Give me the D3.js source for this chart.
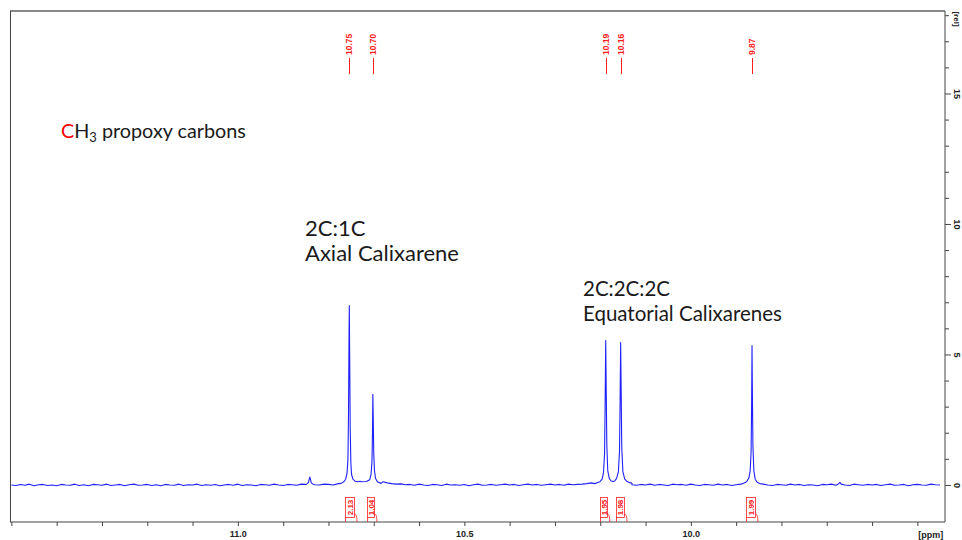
<!DOCTYPE html>
<html>
<head>
<meta charset="utf-8">
<script src="https://cdn.jsdelivr.net/npm/d3@7"></script>
<style>
	body { margin: 0; background: #fff; }
	svg { display: block; }
	.tick text { font-family: "Liberation Sans", Arial, sans-serif; font-weight: bold; font-size: 9px; fill: #222; }
	.note { font-family: Lato, "Open Sans", sans-serif; fill: #1a1a1a; }
</style>
</head>
<body>
<div id="chart"></div>
<script>

// x ticks every 0.1 ppm, only some carry a label
const xTicks = [11.5, 11.4, 11.3, 11.2, 11.1, 11.0, 10.9, 10.8, 10.7, 10.6, 10.5, 10.4, 10.3, 10.2, 10.1, 10.0, 9.9, 9.8, 9.7, 9.6, 9.5];
const xTickLabels = {"11.0": "11.0", "10.5": "10.5", "10.0": "10.0"};
const yTicks = [0, 1, 2, 3, 4, 5, 6, 7, 8, 9, 10, 11, 12, 13, 14, 15, 16, 17, 18];
const yTickLabels = {"0": "0", "5": "5", "10": "10", "15": "15"};

// peak picking labels (ppm position, text)
const peakPpm = [10.754, 10.702, 10.188, 10.155, 9.865];
const peakText = ["10.75", "10.70", "10.19", "10.16", "9.87"];

// integral regions: [left ppm, right ppm, value]
const integrals = [
	[10.764, 10.737, "2.13"],
	[10.715, 10.693, "1.04"],
	[10.201, 10.179, "1.95"],
	[10.166, 10.141, "1.98"],
	[9.879, 9.852, "1.99"]
];

// baseline read every 0.01 ppm from 11.50 down to 9.45
const baseStart = 11.50;
const baseStep = 0.01;
const baseline = [
	0.00, -0.02, 0.02, -0.01, 0.03, -0.03, 0.01, 0.02, -0.02, 0.00,
	-0.03, 0.02, 0.00, -0.01, 0.03, -0.02, 0.01, -0.03, 0.02, 0.01,
	-0.01, 0.03, -0.02, 0.00, 0.02, -0.03, 0.01, 0.03, -0.01, 0.00,
	0.02, -0.02, 0.01, -0.03, 0.02, 0.00, -0.01, 0.03, -0.02, 0.01,
	0.00, 0.03, -0.02, 0.01, -0.01, 0.02, -0.03, 0.00, 0.02, -0.01,
	0.03, -0.02, 0.01, 0.00, -0.03, 0.02, 0.01, -0.01, 0.03, 0.00,
	-0.02, 0.02, 0.01, -0.01, 0.03, 0.02, 0.04, 0.01, 0.00, 0.03,
	0.02, 0.00, 0.04, 0.03, 0.05, 0.08, 0.12, 0.14, 0.12, 0.10,
	0.11, 0.13, 0.12, 0.08, 0.05, 0.03, 0.04, 0.01, 0.02, -0.01,
	0.03, 0.00, -0.02, 0.02, 0.01, -0.02, 0.03, 0.00, 0.01, -0.01,
	0.02, -0.03, 0.01, 0.03, -0.01, 0.00, 0.02, -0.01, 0.01, 0.03,
	0.00, 0.02, -0.02, 0.01, 0.03, 0.00, 0.02, -0.01, 0.01, 0.03,
	0.00, 0.02, -0.01, 0.03, 0.01, 0.02, 0.03, 0.05, 0.08, 0.10,
	0.03, -0.01, 0.01, 0.02, -0.02, 0.00, 0.03, 0.01, -0.01, 0.02,
	0.00, 0.03, -0.01, 0.02, 0.00, -0.02, 0.03, 0.01, 0.02, -0.01,
	0.03, 0.00, -0.02, 0.02, 0.01, -0.01, 0.03, 0.00, 0.02, -0.02,
	0.01, 0.03, -0.01, 0.00, 0.02, 0.01, 0.03, 0.00, -0.02, 0.02,
	0.01, -0.01, 0.03, 0.00, 0.02, -0.02, 0.01, 0.00, -0.03, 0.02,
	0.01, 0.03, -0.01, 0.02, 0.00, -0.02, 0.03, 0.01, -0.01, 0.02,
	0.00, 0.02, -0.02, 0.01, 0.03, -0.01, 0.00, 0.02, -0.03, 0.01,
	0.02, 0.00, -0.01, 0.03, 0.01, 0.00
];

// peak shapes: [ppm, intensity]
const peakShapes = [
	[[10.848, 0.03], [10.844, 0.10], [10.8425, 0.22], [10.841, 0.30], [10.8395, 0.20], [10.838, 0.08], [10.834, 0.03]],
	[[10.772, 0.06], [10.766, 0.12], [10.762, 0.22], [10.759, 0.45], [10.757, 1.0], [10.7558, 2.6], [10.7548, 5.2], [10.754, 6.87],
	 [10.7532, 5.0], [10.752, 2.2], [10.7505, 0.8], [10.749, 0.40], [10.746, 0.22], [10.741, 0.14], [10.735, 0.12]],
	[[10.728, 0.12], [10.716, 0.13], [10.709, 0.20], [10.706, 0.40], [10.704, 0.9], [10.7028, 2.0], [10.702, 3.47],
	 [10.7012, 2.6], [10.700, 1.2], [10.6985, 0.55], [10.696, 0.25], [10.692, 0.12], [10.684, 0.06]],
	[[10.212, 0.05], [10.201, 0.12], [10.196, 0.22], [10.193, 0.45], [10.1905, 1.2], [10.1892, 3.2], [10.188, 5.53],
	 [10.1868, 3.6], [10.1855, 1.5], [10.1835, 0.55], [10.180, 0.24], [10.176, 0.15], [10.172, 0.13],
	 [10.168, 0.15], [10.164, 0.25], [10.160, 0.50], [10.1575, 1.3], [10.1562, 3.2], [10.155, 5.46],
	 [10.1538, 3.5], [10.1525, 1.4], [10.150, 0.50], [10.146, 0.22], [10.140, 0.12], [10.130, 0.06]],
	[[9.886, 0.05], [9.877, 0.12], [9.872, 0.26], [9.869, 0.55], [9.867, 1.3], [9.8658, 3.2], [9.865, 5.34],
	 [9.8642, 3.6], [9.863, 1.5], [9.861, 0.55], [9.858, 0.22], [9.853, 0.09], [9.845, 0.04]],
	[[9.675, 0.03], [9.671, 0.10], [9.668, 0.03]]
];

const width = 962;
const height = 540;

const x = d3.scaleLinear().domain([11.503, 9.439]).range([10, 945]);
const y = d3.scaleLinear().domain([-1.42, 18.16]).range([522, 11]);

const svg = d3.select('#chart').append('svg')
	.attr('width', width)
	.attr('height', height);

// build spectrum: baseline points outside peak windows + peak shapes
let spectrum = [];
baseline.forEach((v, i) => {
	const ppm = baseStart - i * baseStep;
	const inside = peakShapes.some(s => ppm <= s[0][0] && ppm >= s[s.length - 1][0]);
	if (!inside) spectrum.push([ppm, v]);
});
peakShapes.forEach(s => s.forEach(p => spectrum.push(p)));
spectrum.sort((a, b) => b[0] - a[0]);

// frame
svg.append('line')
	.attr('x1', x.range()[0]).attr('x2', x.range()[1])
	.attr('y1', y.range()[1]).attr('y2', y.range()[1])
	.attr('stroke', '#888').attr('stroke-width', 2);
svg.append('line')
	.attr('x1', x.range()[0] + 0.5).attr('x2', x.range()[0] + 0.5)
	.attr('y1', y.range()[1]).attr('y2', y.range()[0])
	.attr('stroke', '#444').attr('stroke-width', 1);

// x axis
const xAxis = d3.axisBottom(x)
	.tickValues(xTicks)
	.tickSize(4)
	.tickPadding(5)
	.tickFormat(d => xTickLabels[d.toFixed(1)] || '');
const gx = svg.append('g')
	.attr('transform', `translate(0,${y.range()[0]})`)
	.call(xAxis);
gx.select('.domain').attr('d', `M${x.range()[0]},0H${x.range()[1]}`).attr('stroke', '#444');
gx.selectAll('.tick line').attr('stroke', '#444');
gx.append('text')
	.attr('x', x(9.5) + 1)
	.attr('y', 16)
	.attr('text-anchor', 'start')
	.style('font-family', '"Liberation Sans", Arial, sans-serif')
	.style('font-weight', 'bold')
	.style('font-size', '9px')
	.attr('fill', '#222')
	.text('[ppm]');

// y axis on the right
const yAxis = d3.axisRight(y)
	.tickValues(yTicks)
	.tickSize(4)
	.tickFormat(d => yTickLabels[d] || '');
const gy = svg.append('g')
	.attr('transform', `translate(${x.range()[1]},0)`)
	.call(yAxis);
gy.select('.domain').attr('d', `M0,${y.range()[1]}V${y.range()[0]}`).attr('stroke', '#444');
gy.selectAll('.tick line')
	.attr('stroke', '#444')
	.attr('x2', d => yTickLabels[d] ? 6 : 4);
gy.selectAll('.tick text')
	.attr('x', 0)
	.attr('dy', '0.35em')
	.attr('text-anchor', 'middle')
	.attr('transform', 'translate(12,0) rotate(90)');
gy.append('text')
	.attr('transform', `translate(12,${y.range()[1] + 8}) rotate(90)`)
	.attr('dy', '0.35em')
	.attr('text-anchor', 'middle')
	.style('font-family', '"Liberation Sans", Arial, sans-serif')
	.style('font-weight', 'bold')
	.style('font-size', '8px')
	.attr('fill', '#222')
	.text('[rel]');

// spectrum line
const line = d3.line()
	.x(d => x(d[0]))
	.y(d => y(d[1]));
svg.append('path')
	.datum(spectrum)
	.attr('fill', 'none')
	.attr('stroke', '#2020ff')
	.attr('stroke-width', 1.1)
	.attr('stroke-linejoin', 'round')
	.attr('d', line);

// peak labels
const peaks = svg.append('g');
peaks.selectAll('line')
	.data(peakPpm)
	.enter().append('line')
	.attr('x1', d => Math.round(x(d)) + 0.5).attr('x2', d => Math.round(x(d)) + 0.5)
	.attr('y1', 58).attr('y2', 74)
	.attr('stroke', '#ff2020').attr('stroke-width', 1);
peaks.selectAll('text')
	.data(peakPpm)
	.enter().append('text')
	.attr('transform', d => `translate(${Math.round(x(d)) + 0.5},55) rotate(-90)`)
	.attr('dy', '0.35em')
	.attr('text-anchor', 'start')
	.style('font-family', '"Liberation Sans", Arial, sans-serif')
	.style('font-weight', 'bold')
	.style('font-size', '8.5px')
	.attr('fill', '#ff2020')
	.text((d, i) => peakText[i]);

// integrals
const integ = svg.append('g');
const ints = integ.selectAll('g')
	.data(integrals)
	.enter().append('g');
ints.append('rect')
	.attr('x', d => Math.round(x(d[0])) + 0.5)
	.attr('y', 497.5)
	.attr('width', d => Math.round(x(d[1]) - x(d[0])) - 3)
	.attr('height', 20)
	.attr('fill', 'none')
	.attr('stroke', '#ff2020')
	.attr('stroke-width', 0.8);
ints.append('line')
	.attr('x1', d => Math.round(x(d[0])) + 0.5).attr('x2', d => Math.round(x(d[0])) + 0.5)
	.attr('y1', 517).attr('y2', 522)
	.attr('stroke', '#ff2020').attr('stroke-width', 0.8);
ints.append('path')
	.attr('d', d => {
		const x0 = Math.round(x(d[0])) + 0.5 + Math.round(x(d[1]) - x(d[0])) - 3;
		const x1 = x(d[1]);
		return `M${x0},514Q${x1},514 ${x1},522`;
	})
	.attr('fill', 'none')
	.attr('stroke', '#ff2020').attr('stroke-width', 0.8);
ints.append('text')
	.attr('transform', d => `translate(${(Math.round(x(d[0])) + Math.round(x(d[0])) + Math.round(x(d[1]) - x(d[0])) - 3) / 2 + 0.5},507.5) rotate(-90)`)
	.attr('dy', '0.35em')
	.attr('text-anchor', 'middle')
	.style('font-family', '"Liberation Sans", Arial, sans-serif')
	.style('font-weight', 'bold')
	.style('font-size', '8px')
	.attr('fill', '#ff2020')
	.text(d => d[2]);

// annotations
const t1 = svg.append('text').attr('class', 'note').attr('x', 61).attr('y', 138).style('font-size', '19.8px');
t1.append('tspan').attr('fill', '#ff0000').text('C');
t1.append('tspan').text('H');
t1.append('tspan').attr('font-size', '13px').attr('dy', 4).text('3');
t1.append('tspan').attr('dy', -4).text(' propoxy carbons');

svg.append('text').attr('class', 'note').attr('x', 305).attr('y', 236).style('font-size', '22px').text('2C:1C');
svg.append('text').attr('class', 'note').attr('x', 305).attr('y', 261).style('font-size', '22px').text('Axial Calixarene');
svg.append('text').attr('class', 'note').attr('x', 583).attr('y', 296).style('font-size', '20.5px').text('2C:2C:2C');
svg.append('text').attr('class', 'note').attr('x', 583).attr('y', 321).style('font-size', '20.5px').text('Equatorial Calixarenes');

</script>
</body>
</html>
